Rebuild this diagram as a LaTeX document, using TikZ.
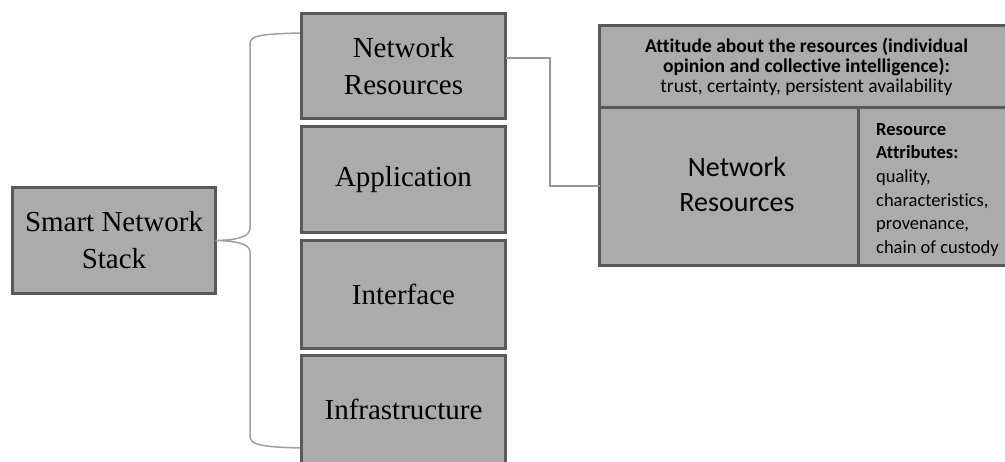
\documentclass[tikz,border=0pt]{standalone}
\usepackage{fontspec}
\setmainfont{Liberation Serif}
\newfontfamily\calib[Ligatures=NoCommon]{Carlito}
\definecolor{boxgray}{RGB}{171,171,171}
\definecolor{bordergray}{RGB}{89,89,89}
\definecolor{bracegray}{RGB}{160,160,160}
\definecolor{conngray}{RGB}{150,150,150}
\begin{document}
\begin{tikzpicture}[x=1pt,y=-1pt,
  box/.style={draw=bordergray, fill=boxgray, line width=3pt, inner sep=0pt, outer sep=0pt, align=center, font=\fontsize{29}{37}\selectfont},
  cell/.style={draw=bordergray, fill=boxgray, line width=3pt, inner sep=0pt, outer sep=0pt},
  brace/.style={draw=bracegray, line width=1.5pt},
  conn/.style={draw=conngray, line width=1.5pt}]
\useasboundingbox (0,0) rectangle (1005,462);
\clip (0,0) rectangle (1005,462);
% left box
\node[box, minimum width=203pt, minimum height=106pt] (sns) at (114,240.5) {Smart Network\\Stack};
% stack
\node[box, minimum width=204pt, minimum height=105pt] (nr) at (403.5,66) {Network\\Resources};
\node[box, minimum width=204pt, minimum height=106pt] (app) at (403.5,179.5) {Application};
\node[box, minimum width=204pt, minimum height=108pt] (intf) at (403.5,294.5) {Interface};
\node[box, minimum width=204pt, minimum height=108pt] (infra) at (403.5,409.5) {Infrastructure};
% brace
\coordinate (bt) at (300,33);
\coordinate (bb) at (300,448);
\draw[brace] (bt) .. controls (258,34) and (250,36) .. (250,44) -- (250,228)
  .. controls (250,236) and (240,240) .. (sns.east)
  .. controls (240,241) and (250,245) .. (250,252) -- (250,436)
  .. controls (250,444) and (258,447) .. (bb);
% table
\node[cell, minimum width=258.5pt, minimum height=158.5pt] (nrc) at (728.75,186.25) {};
\node[cell, minimum width=155.5pt, minimum height=158.5pt] (attr) at (935.75,186.25) {};
\node[cell, minimum width=414pt, minimum height=82.5pt, align=center, font=\calib\fontsize{19.5}{20}\selectfont] (att) at (806.5,66.5)
  {{\bfseries Attitude about the resources (individual}\\{\bfseries opinion and collective intelligence):}\\trust, certainty, persistent availability};
\node[font=\calib\fontsize{28}{35}\selectfont, align=center] (nrt) at (737,184) {Network\\Resources};
\node[font=\calib\fontsize{18.5}{23.7}\selectfont, align=left, anchor=north west, inner sep=0pt] (attrt) at (876,123)
  {\textbf{Resource}\\\textbf{Attributes:}\\quality,\\characteristics,\\provenance,\\chain of custody};
% connector
\draw[conn] ([yshift=8pt]nr.east) -- ++(44.5,0) |- (nrc.west);
\end{tikzpicture}
\end{document}
